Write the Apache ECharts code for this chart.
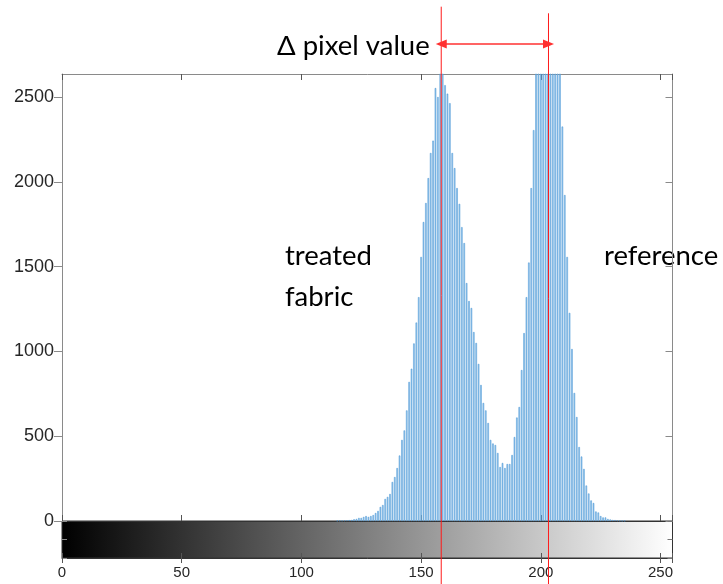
<!DOCTYPE html>
<html>
<head>
<meta charset="utf-8">
<script src="https://cdn.jsdelivr.net/npm/echarts@6/dist/echarts.min.js"></script>
<style>
html,body{margin:0;padding:0;background:#fff;}
#chart{width:723px;height:584px;}
</style>
</head>
<body>
<div id="chart"></div>
<script>
// ---- data ----
var binStart = 115;           // first pixel value with a nonzero count
var counts = [
  1, 2, 2, 3, 4, 5, 6, 10, 12, 18,            // 115-124
  18, 24, 29, 24, 29, 35, 47, 59, 83, 94,     // 125-134
  130, 142, 159, 230, 259, 312, 386, 478, 534, 652,     // 135-144
  820, 898, 1047, 1170, 1320, 1557, 1763, 1875, 2022, 2170, // 145-154
  2243, 2553, 2500, 2720, 2700, 2570, 2520, 2464, 2170, 2081, // 155-164
  1963, 1870, 1733, 1639, 1403, 1297, 1256, 1114, 1050, 926,  // 165-174
  802, 696, 652, 578, 478, 457, 448, 401, 318, 342,           // 175-184
  312, 336, 336, 389, 495, 610, 672, 890, 1108, 1320,         // 185-194
  1524, 1963, 2305, 2750, 2950, 3150, 3300, 3400, 3420, 3350, // 195-204
  3200, 3000, 2800, 2680, 2326, 1922, 1557, 1227, 1014, 755,  // 205-214
  613, 436, 380, 307, 209, 162, 121, 106, 56, 50,             // 215-224
  29, 21, 21, 12, 9, 6, 5, 3, 2, 1,                           // 225-234
  1                                                           // 235
];
var xTicks = [0, 50, 100, 150, 200, 250];
var yTicks = [0, 500, 1000, 1500, 2000, 2500];
var xMax = 255;
var yMax = 2636;
// annotation values (pixel value positions of the two peaks, count-axis levels)
var peakLines = [158.4, 203.2];
var peakLineTops = [3033, 2994];
var arrowLevel = 2813;
var annotationTexts = ['Δ pixel value', 'treated\nfabric', 'reference'];

// ---- layout ----
var W = 723, H = 584;
var plotLeft = 62, plotRight = 50.5, plotTop = 74, plotBottomPx = 521, barH = 37;
var unitsPerPx = yMax / (plotBottomPx - plotTop);
var overlayMin = -(H - plotBottomPx) * unitsPerPx;
var overlayMax = plotBottomPx * unitsPerPx;

var histData = counts.map(function (c, i) { return [binStart + i, c]; });

var gray = '#8a8a8a';
var dark = '#333333';
var labelColor = '#262626';
var annFont = 'Lato';
var annSize = 27.5;

var chart = echarts.init(document.getElementById('chart'), null, {renderer: 'canvas'});
var option = {
  animation: false,
  backgroundColor: '#ffffff',
  grid: [
    {left: plotLeft, right: plotRight, top: plotTop, height: plotBottomPx - plotTop, containLabel: false},
    {left: plotLeft, right: plotRight, top: plotBottomPx, height: barH, show: true,
     backgroundColor: new echarts.graphic.LinearGradient(0, 0, 1, 0, [
       {offset: 0, color: '#000000'}, {offset: 1, color: '#ffffff'}]),
     borderColor: dark, borderWidth: 1},
    {left: plotLeft, right: plotRight, top: 0, height: H}
  ],
  xAxis: [
    {gridIndex: 0, type: 'value', min: 0, max: xMax, interval: 50, position: 'bottom',
     axisLine: {show: true, lineStyle: {color: dark, width: 1}},
     axisTick: {show: true, inside: true, length: 6, lineStyle: {color: '#555'}},
     axisLabel: {show: false}, splitLine: {show: false}},
    {gridIndex: 0, type: 'value', min: 0, max: xMax, interval: 50, position: 'top',
     axisLine: {show: true, onZero: false, lineStyle: {color: gray, width: 1}},
     axisTick: {show: true, inside: true, length: 6, lineStyle: {color: '#555'}},
     axisLabel: {show: false}, splitLine: {show: false}},
    {gridIndex: 1, type: 'value', min: 0, max: xMax, interval: 50, position: 'bottom',
     axisLine: {show: true, lineStyle: {color: dark}},
     axisTick: {show: true, inside: true, length: 5, lineStyle: {color: '#555'}},
     axisLabel: {show: true, margin: 7, fontSize: 15, fontFamily: 'Liberation Sans', color: labelColor,
       formatter: function (v) { return xTicks.indexOf(v) >= 0 ? String(v) : ''; }},
     splitLine: {show: false}},
    {gridIndex: 1, type: 'value', min: 0, max: xMax, interval: 50, position: 'top',
     axisLine: {show: false},
     axisTick: {show: true, inside: true, length: 5, lineStyle: {color: '#555'}},
     axisLabel: {show: false}, splitLine: {show: false}},
    {gridIndex: 2, type: 'value', min: 0, max: xMax, show: false}
  ],
  yAxis: [
    {gridIndex: 0, type: 'value', min: 0, max: yMax, interval: 500, position: 'left',
     axisLine: {show: true, onZero: false, lineStyle: {color: gray}},
     axisTick: {show: true, inside: false, length: 8, lineStyle: {color: gray}},
     axisLabel: {show: true, margin: 8, fontSize: 18, fontFamily: 'Liberation Sans', color: labelColor,
       showMaxLabel: false,
       formatter: function (v) { return yTicks.indexOf(v) >= 0 ? String(v) : ''; }},
     splitLine: {show: false}},
    {gridIndex: 0, type: 'value', min: 0, max: yMax, interval: 500, position: 'right',
     axisLine: {show: true, onZero: false, lineStyle: {color: gray}},
     axisTick: {show: true, inside: true, length: 7, lineStyle: {color: gray}},
     axisLabel: {show: false}, splitLine: {show: false}},
    {gridIndex: 1, type: 'value', min: 0, max: 1, interval: 0.5, position: 'left',
     axisLine: {show: false, onZero: false},
     axisTick: {show: true, inside: true, length: 5, lineStyle: {color: '#8a8a8a'}},
     axisLabel: {show: false}, splitLine: {show: false}},
    {gridIndex: 1, type: 'value', min: 0, max: 1, interval: 0.5, position: 'right',
     axisLine: {show: false, onZero: false},
     axisTick: {show: true, inside: true, length: 5, lineStyle: {color: '#777'}},
     axisLabel: {show: false}, splitLine: {show: false}},
    {gridIndex: 2, type: 'value', min: overlayMin, max: overlayMax, show: false}
  ],
  series: [
    {type: 'bar', xAxisIndex: 0, yAxisIndex: 0, data: histData, barWidth: 1.5,
     itemStyle: {color: '#9ccaee', borderColor: '#4592d3', borderWidth: 0.5}, silent: true, clip: true},
    {type: 'line', xAxisIndex: 4, yAxisIndex: 4, symbol: 'none', silent: true, clip: false,
     data: [[peakLines[0], overlayMin], [peakLines[0], peakLineTops[0]]],
     lineStyle: {color: '#ff1a1a', width: 1},
     markLine: {silent: true, symbol: ['triangle', 'triangle'], symbolSize: [9, 11],
       label: {show: false},
       lineStyle: {color: '#ff3030', width: 1.5, type: 'solid'},
       data: [[{coord: [peakLines[0], arrowLevel]}, {coord: [peakLines[1], arrowLevel]}]]}},
    {type: 'line', xAxisIndex: 4, yAxisIndex: 4, symbol: 'none', silent: true, clip: false,
     data: [[peakLines[1], overlayMin], [peakLines[1], peakLineTops[1]]],
     lineStyle: {color: '#ff1a1a', width: 1}}
  ],
  graphic: [
    {type: 'text', left: 277, top: 32, style: {text: annotationTexts[0], fontSize: annSize, fontFamily: annFont, fill: '#000'}},
    {type: 'text', left: 285, top: 236, style: {text: annotationTexts[1], fontSize: annSize, fontFamily: annFont, fill: '#000', lineHeight: 41}},
    {type: 'text', left: 604, top: 242, style: {text: annotationTexts[2], fontSize: annSize, fontFamily: annFont, fill: '#000'}}
  ]
};
chart.setOption(option);
</script>
</body>
</html>
